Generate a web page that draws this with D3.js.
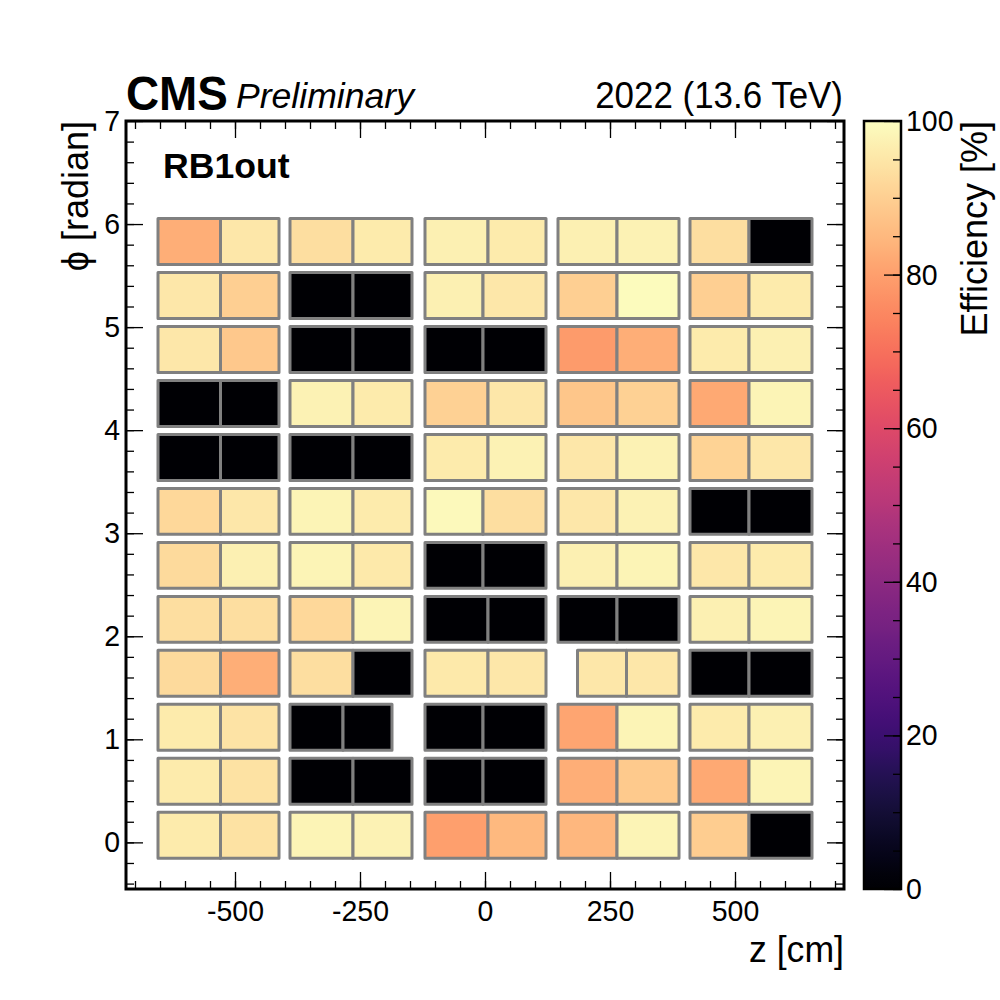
<!DOCTYPE html>
<html lang="en">

<head>
    <meta charset="utf-8">
    <title>RB1out efficiency</title>
    <script src="https://d3js.org/d3.v7.min.js"></script>
    <style type="text/css">
        html, body { margin: 0; padding: 0; background: #fff; }
        text { font-family: "Liberation Sans", Arial, sans-serif; fill: #000; }
    </style>
</head>

<body>
    <script type="text/javascript">

        //Data, rows run from phi = 0 upwards, each row is wheel -2 .. +2 with two rolls
        var sectorCentres = [0.07, 0.594, 1.117, 1.641, 2.164, 2.688, 3.212, 3.735, 4.259, 4.782, 5.306, 5.83];
        var sectorHalfWidth = 0.223;

        var wheelEdges = [[-654, -529, -412], [-390, -264, -146], [-120, 6, 122], [146, 264, 388], [410, 528, 654]];

        //Wheel 0 splits at a different z from sector to sector
        var wheel0Split = [6, -4, -4, 6, 6, -4, -4, 6, 6, -4, -4, 6];

        var eff = [
            [96, 94, 98, 97.5, 80, 85.5, 85, 98, 89.5, 0],
            [96, 94, 0, 0, 0, 0, 83, 89, 82, 98],
            [96, 94.5, 0, 0, 0, 0, 81, 98, 96, 97],
            [92.5, 83, 93, 0, 95.5, 95, 95, 95, 0, 0],
            [93, 93, 92, 98, 0, 0, 0, 0, 97, 98],
            [92.5, 97, 98, 95.5, 0, 0, 97, 98, 95, 96],
            [92, 95, 98, 96, 99, 93, 95, 97.5, 0, 0],
            [0, 0, 0, 0, 96, 97.5, 95, 97.5, 91, 95],
            [0, 0, 97.5, 96, 90.5, 95, 88, 90.5, 82, 98],
            [95, 88.5, 0, 0, 0, 0, 79, 83, 96, 97],
            [95, 90, 0, 0, 97, 95, 90, 99.3, 90, 96],
            [83, 95, 93, 96, 97, 96, 97, 97.5, 93, 0]
        ];

        //Two chambers are shorter than the rest: [sector, wheel, edges]
        var shortChambers = [
            [2, 1, [-390, -284, -186]],
            [3, 3, [185, 283, 388]]
        ];

        var xMajor = [-500, -250, 0, 250, 500];
        var xMinor = d3.range(-700, 701, 50);
        var yMajor = [0, 1, 2, 3, 4, 5, 6, 7];
        var yMinor = d3.range(-4, 70, 2).map(function (d) { return d / 10; });
        var cMajor = [0, 20, 40, 60, 80, 100];
        var cMinor = d3.range(0, 101, 5);

        //Width and height
        var w = 1000;
        var h = 1000;
        var left = 126, right = 844, top_ = 121, bottom = 889;
        var barLeft = 864, barRight = 901;
        var majorLen = 17, minorLen = 8;

        var xScale = d3.scaleLinear().domain([-718, 718]).range([left, right]);
        var yScale = d3.scaleLinear().domain([-0.4525, 7]).range([bottom, top_]);
        var cScale = d3.scaleLinear().domain([0, 100]).range([bottom, top_]);

        var svg = d3.select("body")
            .append("svg")
            .attr("width", w)
            .attr("height", h)
            .style("display", "block");

        //Chambers
        var cells = [];
        eff.forEach(function (row, s) {
            wheelEdges.forEach(function (edges, wheel) {
                var e = edges;
                if (wheel === 2) e = [edges[0], wheel0Split[s], edges[2]];
                shortChambers.forEach(function (c) {
                    if (c[0] === s && c[1] === wheel) e = c[2];
                });
                cells.push({ s: s, x0: e[0], x1: e[1], v: row[wheel * 2] });
                cells.push({ s: s, x0: e[1], x1: e[2], v: row[wheel * 2 + 1] });
            });
        });

        svg.selectAll("rect.cell")
            .data(cells)
            .enter()
            .append("rect")
            .attr("class", "cell")
            .attr("x", function (d) { return xScale(d.x0); })
            .attr("width", function (d) { return xScale(d.x1) - xScale(d.x0); })
            .attr("y", function (d) { return yScale(sectorCentres[d.s] + sectorHalfWidth); })
            .attr("height", function (d) { return yScale(sectorCentres[d.s] - sectorHalfWidth) - yScale(sectorCentres[d.s] + sectorHalfWidth); })
            .attr("fill", function (d) { return d3.interpolateMagma(d.v / 100); })
            .attr("stroke", "#808080")
            .attr("stroke-width", 3)
            .attr("stroke-linejoin", "round");

        //Helvetica in the original is a bit narrower than Liberation Sans
        function squeeze(sel, k) {
            sel.each(function () {
                d3.select(this)
                    .attr("textLength", this.getComputedTextLength() * k)
                    .attr("lengthAdjust", "spacingAndGlyphs");
            });
        }

        //Axis helper, size is negative so the ticks point into the frame
        function drawAxis(gen, tx, ty, major, minor, labels, pad) {
            var gMinor = svg.append("g").attr("transform", "translate(" + tx + "," + ty + ")")
                .call(gen.tickValues(minor).tickSize(-minorLen).tickFormat(""));
            var gMajor = svg.append("g").attr("transform", "translate(" + tx + "," + ty + ")")
                .call(gen.tickValues(major).tickSize(-majorLen).tickPadding(pad)
                    .tickFormat(labels ? function (d) { return String(d); } : ""));
            [gMinor, gMajor].forEach(function (g) {
                g.select(".domain").remove();
                g.selectAll("line").attr("stroke", "#000").attr("stroke-width", 1.3);
            });
            gMajor.selectAll("text").attr("font-size", "29.5px")
                .style("font-family", "'Liberation Sans', Arial, sans-serif");
            if (labels) squeeze(gMajor.selectAll("text"), 0.965);
        }

        drawAxis(d3.axisBottom(xScale), 0, bottom, xMajor, xMinor, true, 11);
        drawAxis(d3.axisTop(xScale), 0, top_, xMajor, xMinor, false, 0);
        drawAxis(d3.axisLeft(yScale), left, 0, yMajor, yMinor, true, 6);
        drawAxis(d3.axisRight(yScale), right, 0, yMajor, yMinor, false, 0);

        //Frame
        svg.append("rect")
            .attr("x", left).attr("y", top_)
            .attr("width", right - left).attr("height", bottom - top_)
            .attr("fill", "none").attr("stroke", "#000").attr("stroke-width", 3);

        //Colour bar
        var grad = svg.append("defs").append("linearGradient")
            .attr("id", "magma").attr("x1", 0).attr("x2", 0).attr("y1", 1).attr("y2", 0);
        d3.range(0, 1.0001, 0.02).forEach(function (t) {
            grad.append("stop").attr("offset", t).attr("stop-color", d3.interpolateMagma(t));
        });
        svg.append("rect")
            .attr("x", barLeft).attr("y", top_)
            .attr("width", barRight - barLeft).attr("height", bottom - top_)
            .attr("fill", "url(#magma)");

        drawAxis(d3.axisRight(cScale), barRight, 0, cMajor, cMinor, true, 5);

        svg.append("rect")
            .attr("x", barLeft).attr("y", top_)
            .attr("width", barRight - barLeft).attr("height", bottom - top_)
            .attr("fill", "none").attr("stroke", "#000").attr("stroke-width", 2.5);

        //Labels
        function label(txt, x, y, size, anchor, weight, style, rotate, k) {
            var t = svg.append("text")
                .text(txt)
                .attr("text-anchor", anchor)
                .attr("font-size", size + "px")
                .attr("font-weight", weight || "normal")
                .attr("font-style", style || "normal");
            if (rotate) t.attr("transform", "translate(" + x + "," + y + ") rotate(-90)");
            else t.attr("x", x).attr("y", y);
            if (k) squeeze(t, k);
            return t;
        }

        label("CMS", 126, 109.5, 48, "start", "bold", null, false, 0.955);
        label("Preliminary", 236, 108, 35.6, "start", "normal", "italic");
        label("2022 (13.6 TeV)", 843, 108, 36, "end", null, null, false, 0.97);
        label("RB1out", 163, 178, 35.6, "start", "bold");
        label("z [cm]", 844, 962, 36, "end", null, null, false, 0.99);
        label("\u03d5 [radian]", 88, 121, 36, "end", "normal", "normal", true);
        label("Efficiency [%]", 987, 121, 36, "end", "normal", "normal", true);

    </script>
</body>

</html>
